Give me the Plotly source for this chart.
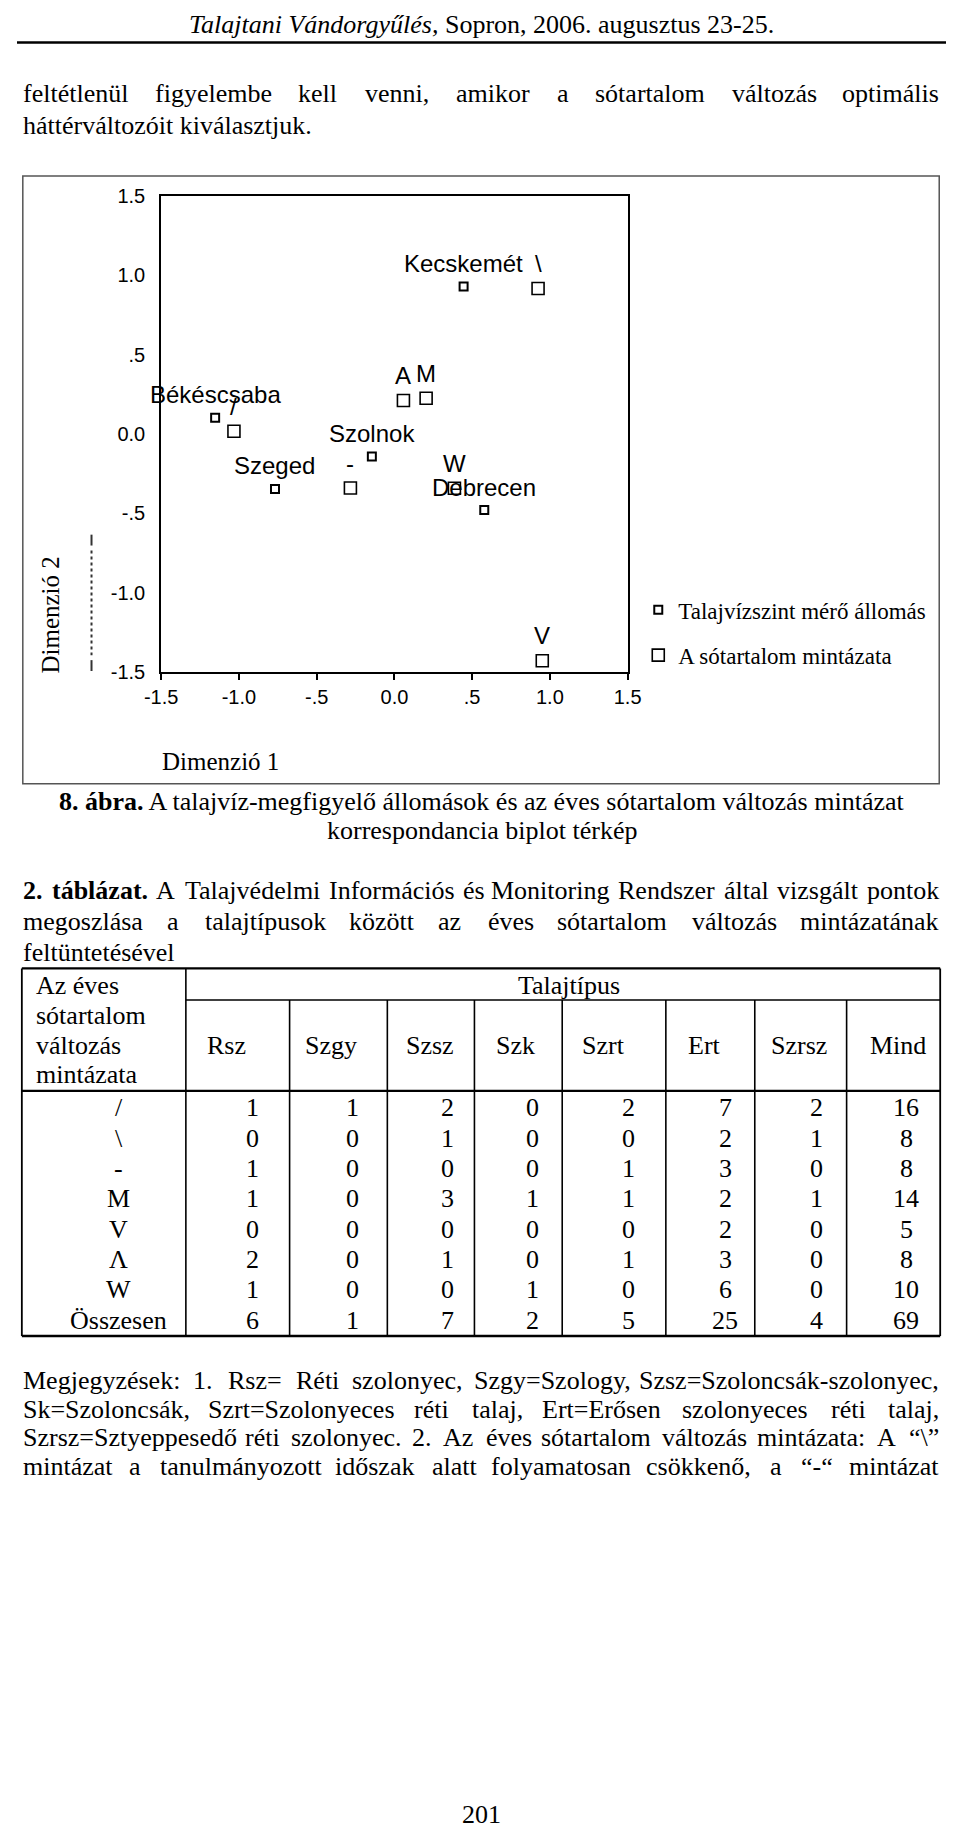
import plotly.graph_objects as go

# ---------------- data ----------------
station_names = ["Kecskemét", "Szolnok", "Debrecen", "Békéscsaba", "Szeged"]
station_x = [0.445, -0.145, 0.578, -1.153, -0.768]
station_y = [0.928, -0.143, -0.480, 0.102, -0.347]

pattern_names = ["\\", "A", "M", "-", "W", "/", "V"]
pattern_x = [0.924, 0.058, 0.204, -0.283, 0.386, -1.032, 0.951]
pattern_y = [0.916, 0.210, 0.224, -0.341, -0.343, 0.017, -1.429]

axis_ticks = [-1.5, -1.0, -0.5, 0.0, 0.5, 1.0, 1.5]
axis_ticktext = ["-1.5", "-1.0", "-.5", "0.0", ".5", "1.0", "1.5"]

table_columns = ["Rsz", "Szgy", "Szsz", "Szk", "Szrt", "Ert", "Szrsz", "Mind"]
table_rows = ["/", "\\", "-", "M", "V", "Λ", "W", "Összesen"]
col_rsz = [1, 0, 1, 1, 0, 2, 1, 6]
col_szgy = [1, 0, 0, 0, 0, 0, 0, 1]
col_szsz = [2, 1, 0, 3, 0, 1, 0, 7]
col_szk = [0, 0, 0, 1, 0, 0, 1, 2]
col_szrt = [2, 0, 1, 1, 0, 1, 0, 5]
col_ert = [7, 2, 3, 2, 2, 3, 6, 25]
col_szrsz = [2, 1, 0, 1, 0, 0, 0, 4]
col_mind = [16, 8, 8, 14, 5, 8, 10, 69]

# ---------------- helpers ----------------
W, H = 960, 1838
SERIF = "Liberation Serif, Times New Roman, serif"
SANS = "Liberation Sans, Arial, sans-serif"
FS = 26


def px(x):
    return x / W


def py(y):
    return 1 - y / H


TIMES = {' ': 250, '!': 333, '"': 408, '%': 833, '&': 778, "'": 180, '(': 333, ')': 333,
         '+': 564, ',': 250, '-': 333, '.': 250, '/': 278, ':': 278, ';': 278, '=': 564,
         '?': 444, '\\': 278, '“': 444, '”': 444,
         'A': 722, 'B': 667, 'C': 667, 'D': 722, 'E': 611, 'F': 556, 'G': 722, 'H': 722,
         'I': 333, 'J': 389, 'K': 722, 'L': 611, 'M': 889, 'N': 722, 'O': 722, 'P': 556,
         'Q': 722, 'R': 667, 'S': 556, 'T': 611, 'U': 722, 'V': 722, 'W': 944, 'X': 722,
         'Y': 722, 'Z': 611,
         'a': 444, 'b': 500, 'c': 444, 'd': 500, 'e': 444, 'f': 333, 'g': 500, 'h': 500,
         'i': 278, 'j': 278, 'k': 500, 'l': 278, 'm': 778, 'n': 500, 'o': 500, 'p': 500,
         'q': 500, 'r': 333, 's': 389, 't': 278, 'u': 500, 'v': 500, 'w': 722, 'x': 500,
         'y': 500, 'z': 444}
for d in "0123456789":
    TIMES[d] = 500
TIMES_B = {'2': 500, '8': 500, '.': 250, ' ': 250, 't': 333, 'a': 500, 'b': 556,
           'l': 278, 'z': 444, 'r': 444}
ACC = {'á': 'a', 'é': 'e', 'í': 'i', 'ó': 'o', 'ö': 'o', 'ő': 'o', 'ú': 'u', 'ü': 'u',
       'ű': 'u', 'Ö': 'O', 'É': 'E', 'Á': 'A'}


def tw(text, bold=False, size=FS):
    tot = 0
    for ch in text:
        c = ACC.get(ch, ch)
        if bold:
            w = TIMES_B.get(c, TIMES.get(c, 500) * 1.05)
        else:
            w = TIMES.get(c, 500)
        tot += round(w * size / 1000)
    return tot


annotations = []


def txt(x, y, text, anchor="left", size=FS, family=SERIF, angle=0):
    annotations.append(dict(xref="paper", yref="paper", x=px(x), y=py(y), text=text,
                            showarrow=False, xanchor=anchor, yanchor="middle",
                            textangle=angle, borderpad=0, borderwidth=0,
                            font=dict(family=family, size=size, color="#000")))


def justify(words, y, x0=6, x1=953, size=FS):
    items = [(w, False) if isinstance(w, str) else w for w in words]
    widths = [tw(w, b, size) for w, b in items]
    n = len(items)
    gap = (x1 - x0 - sum(widths)) / (n - 1)
    half = (n + 1) // 2
    cur = x0
    for i in range(half):
        w, b = items[i]
        txt(cur, y, f"<b>{w}</b>" if b else w, "left", size)
        cur += widths[i] + gap
    cur = x1
    for i in range(n - 1, half - 1, -1):
        w, b = items[i]
        txt(cur, y, f"<b>{w}</b>" if b else w, "right", size)
        cur -= widths[i] + gap


shapes = []


def hline(x0, x1, y, w=1.5, color="#000"):
    shapes.append(dict(type="line", xref="paper", yref="paper", x0=px(x0), x1=px(x1),
                       y0=py(y), y1=py(y), line=dict(color=color, width=w)))


def vline(x, y0, y1, w=1.5, color="#000", dash="solid"):
    shapes.append(dict(type="line", xref="paper", yref="paper", x0=px(x), x1=px(x),
                       y0=py(y0), y1=py(y1), line=dict(color=color, width=w, dash=dash)))


# ---------------- page header & body ----------------
txt(480, 14, "<i>Talajtani Vándorgyűlés,</i> Sopron, 2006. augusztus 23-25.", "center")
hline(0, 960, 32, 2.5)
justify("feltétlenül figyelembe kell venni, amikor a sótartalom változás optimális".split(), 84)
txt(6, 116, "háttérváltozóit kiválasztjuk.")

# ---------------- chart frame ----------------
shapes.append(dict(type="rect", xref="paper", yref="paper", x0=px(6), x1=px(953),
                   y0=py(782), y1=py(167), line=dict(color="#555", width=1.5)))
vline(77, 530, 541, 2, "#333")
vline(77, 546, 652, 2, "#333", "dot")
vline(77, 657, 668, 2, "#333")
txt(35, 611, "Dimenzió 2", "center", 25, SERIF, -90)
txt(150, 760, "Dimenzió 1", "left", 25, SERIF)

fig = go.Figure()
fig.add_trace(go.Scatter(x=station_x, y=station_y, mode="markers",
                         name="Talajvízszint mérő állomás", legend="legend",
                         marker=dict(symbol="square", size=8, color="white",
                                     line=dict(color="black", width=2))))
fig.add_trace(go.Scatter(x=pattern_x, y=pattern_y, mode="markers",
                         name="A sótartalom mintázata", legend="legend2",
                         marker=dict(symbol="square", size=12, color="white",
                                     line=dict(color="black", width=1.6))))

for n, x, y in zip(station_names, station_x, station_y):
    annotations.append(dict(xref="x", yref="y", x=x, y=y, text=n, showarrow=False,
                            yshift=23, xanchor="center", yanchor="middle", borderpad=0,
                            font=dict(family=SANS, size=24, color="#000")))
for n, x, y in zip(pattern_names, pattern_x, pattern_y):
    annotations.append(dict(xref="x", yref="y", x=x, y=y, text=n, showarrow=False,
                            yshift=25, xanchor="center", yanchor="middle", borderpad=0,
                            font=dict(family=SANS, size=24, color="#000")))

# ---------------- caption ----------------
txt(480, 800, "<b>8. ábra.</b> A talajvíz-megfigyelő állomások és az éves sótartalom változás mintázat", "center")
txt(480, 829, "korrespondancia biplot térkép", "center")

# ---------------- table caption ----------------
justify([("2.", True), ("táblázat.", True)] +
        "A Talajvédelmi Információs és Monitoring Rendszer által vizsgált pontok".split(), 890)
justify("megoszlása a talajtípusok között az éves sótartalom változás mintázatának".split(), 922)
txt(6, 953, "feltüntetésével")

# ---------------- table ----------------
T_TOP, T_SUB, T_HEAD, T_BOT = 969, 1001, 1093, 1341
TL, TR = 5, 954
col_edges = [174.5, 281.7, 382.7, 472.7, 563.4, 670.5, 762.4, 857.3]
hline(TL, TR, T_TOP, 2.2)
hline(174.5, TR, T_SUB, 1.6)
hline(TL, TR, T_HEAD, 2.2)
hline(TL, TR, T_BOT, 2.5)
vline(TL, T_TOP, T_BOT, 1.8)
vline(TR, T_TOP, T_BOT, 1.8)
vline(col_edges[0], T_TOP, T_BOT, 1.6)
for e in col_edges[1:]:
    vline(e, T_SUB, T_BOT, 1.6)

for i, t in enumerate(["Az éves", "sótartalom", "változás", "mintázata"]):
    txt(20, 986.7 + i * 30, t)
txt(570, 986.7, "Talajtípus", "center")
head_x = [216, 324.5, 427, 515.6, 606, 710, 808, 910]
for hx, c in zip(head_x, table_columns):
    txt(hx, 1046.7, c, "center")

num_x = [243, 347, 445, 533, 632, 732, 826, 919]
columns = [col_rsz, col_szgy, col_szsz, col_szk, col_szrt, col_ert, col_szrsz, col_mind]
row_y0, row_dy = 1110, 30.7
for r, lab in enumerate(table_rows):
    yy = row_y0 + r * row_dy
    txt(105, yy, lab, "center")
    for nx, col in zip(num_x, columns):
        txt(nx, yy, str(col[r]), "center")

# ---------------- notes ----------------
justify("Megjegyzések: 1. Rsz= Réti szolonyec, Szgy=Szology, Szsz=Szoloncsák-szolonyec,".split(), 1386)
justify("Sk=Szoloncsák, Szrt=Szolonyeces réti talaj, Ert=Erősen szolonyeces réti talaj,".split(), 1415)
justify("Szrsz=Sztyeppesedő réti szolonyec. 2. Az éves sótartalom változás mintázata: A “\\”".split(), 1444)
justify("mintázat a tanulmányozott időszak alatt folyamatosan csökkenő, a “-“ mintázat".split(), 1473)

txt(480, 1825, "201", "center")

axis_common = dict(range=[-1.5, 1.5], tickvals=axis_ticks, ticktext=axis_ticktext,
                   showgrid=False, zeroline=False, showline=True, mirror=True,
                   linecolor="black", linewidth=2,
                   tickfont=dict(family=SANS, size=20, color="#000"))

fig.update_layout(
    width=W, height=H, margin=dict(l=0, r=0, t=0, b=0),
    paper_bgcolor="white", plot_bgcolor="white",
    xaxis=dict(domain=[px(149), px(631)], ticks="outside", ticklen=6, tickwidth=1.5,
               tickcolor="black", **axis_common),
    yaxis=dict(domain=[py(669), py(187)], ticks="", ticklabelstandoff=10, **axis_common),
    showlegend=True,
    legend=dict(x=px(642), y=py(606), xanchor="left", yanchor="middle",
                bgcolor="rgba(0,0,0,0)", font=dict(family=SERIF, size=23, color="#000")),
    legend2=dict(x=px(642), y=py(652), xanchor="left", yanchor="middle",
                 bgcolor="rgba(0,0,0,0)", font=dict(family=SERIF, size=23, color="#000")),
    annotations=annotations, shapes=shapes,
)

fig.write_html("out.html")
